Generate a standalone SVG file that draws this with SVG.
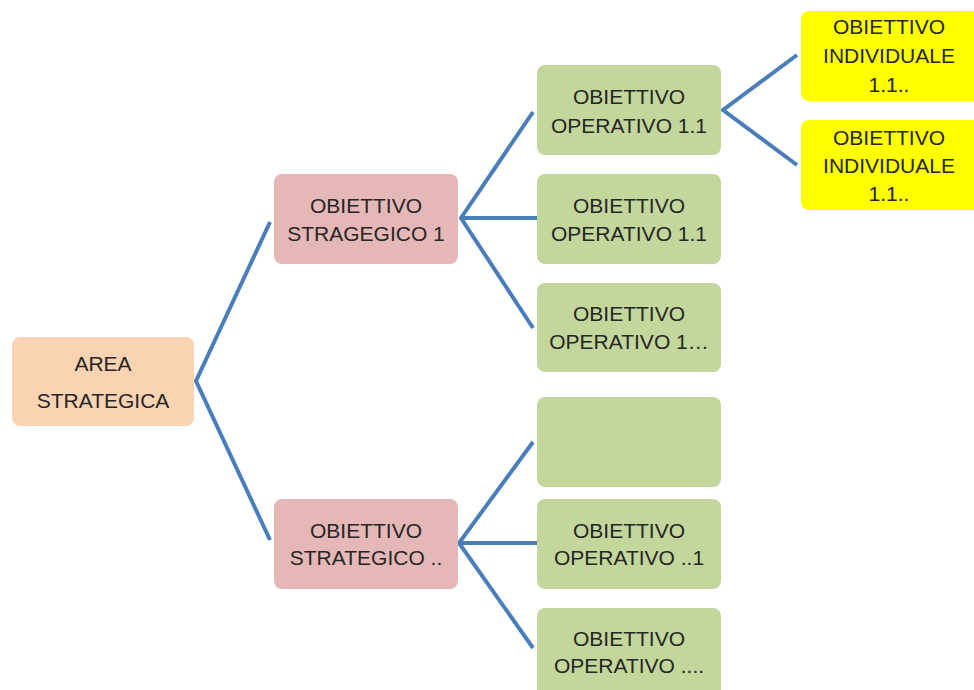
<svg xmlns="http://www.w3.org/2000/svg" width="974" height="690" viewBox="0 0 974 690">
<style>
.n{stroke:none}
.area{fill:#FAD3B3}
.str{fill:#E5B8B7}
.op{fill:#C3D69B}
.ind{fill:#FFFF00}
text{font-family:"Liberation Sans",Arial,sans-serif;font-size:21px;fill:#262626;text-anchor:middle}
.c{fill:none;stroke:#4A7EBB;stroke-width:4;stroke-linejoin:miter}
</style>
<rect width="974" height="690" fill="#fff"/>
<g id="connectors">
<polyline class="c" points="270,222 196,381 270,540"/>
<polyline class="c" points="533,112 461,218 533,328"/>
<line class="c" x1="461" y1="218" x2="537" y2="218"/>
<polyline class="c" points="533,442 459,543 533,648"/>
<line class="c" x1="459" y1="543" x2="537" y2="543"/>
<polyline class="c" points="797,55 723,110 797,165"/>
</g>
<g id="area">
<rect class="n area" x="12" y="337" width="182" height="89" rx="8"/>
<text x="103" y="371">AREA</text>
<text x="103" y="408">STRATEGICA</text>
</g>
<g id="strat1">
<rect class="n str" x="274" y="174" width="184" height="90" rx="8"/>
<text x="366" y="213">OBIETTIVO</text>
<text x="366" y="241">STRAGEGICO 1</text>
</g>
<g id="strat2">
<rect class="n str" x="274" y="499" width="184" height="90" rx="8"/>
<text x="366" y="538">OBIETTIVO</text>
<text x="366" y="565">STRATEGICO ..</text>
</g>
<g id="op1">
<rect class="n op" x="537" y="65" width="184" height="90" rx="8"/>
<text x="629" y="104">OBIETTIVO</text>
<text x="629" y="133">OPERATIVO 1.1</text>
</g>
<g id="op2">
<rect class="n op" x="537" y="174" width="184" height="90" rx="8"/>
<text x="629" y="213">OBIETTIVO</text>
<text x="629" y="241">OPERATIVO 1.1</text>
</g>
<g id="op3">
<rect class="n op" x="537" y="283" width="184" height="89" rx="8"/>
<text x="629" y="321">OBIETTIVO</text>
<text x="629" y="349">OPERATIVO 1…</text>
</g>
<g id="op4">
<rect class="n op" x="537" y="397" width="184" height="90" rx="8"/>
</g>
<g id="op5">
<rect class="n op" x="537" y="499" width="184" height="90" rx="8"/>
<text x="629" y="538">OBIETTIVO</text>
<text x="629" y="565">OPERATIVO ..1</text>
</g>
<g id="op6">
<rect class="n op" x="537" y="608" width="184" height="90" rx="8"/>
<text x="629" y="646">OBIETTIVO</text>
<text x="629" y="673">OPERATIVO ....</text>
</g>
<g id="ind1">
<rect class="n ind" x="801" y="11" width="184" height="90" rx="8"/>
<text x="889" y="34">OBIETTIVO</text>
<text x="889" y="63">INDIVIDUALE</text>
<text x="889" y="92">1.1..</text>
</g>
<g id="ind2">
<rect class="n ind" x="801" y="120" width="184" height="90" rx="8"/>
<text x="889" y="145">OBIETTIVO</text>
<text x="889" y="173">INDIVIDUALE</text>
<text x="889" y="201">1.1..</text>
</g>
</svg>
